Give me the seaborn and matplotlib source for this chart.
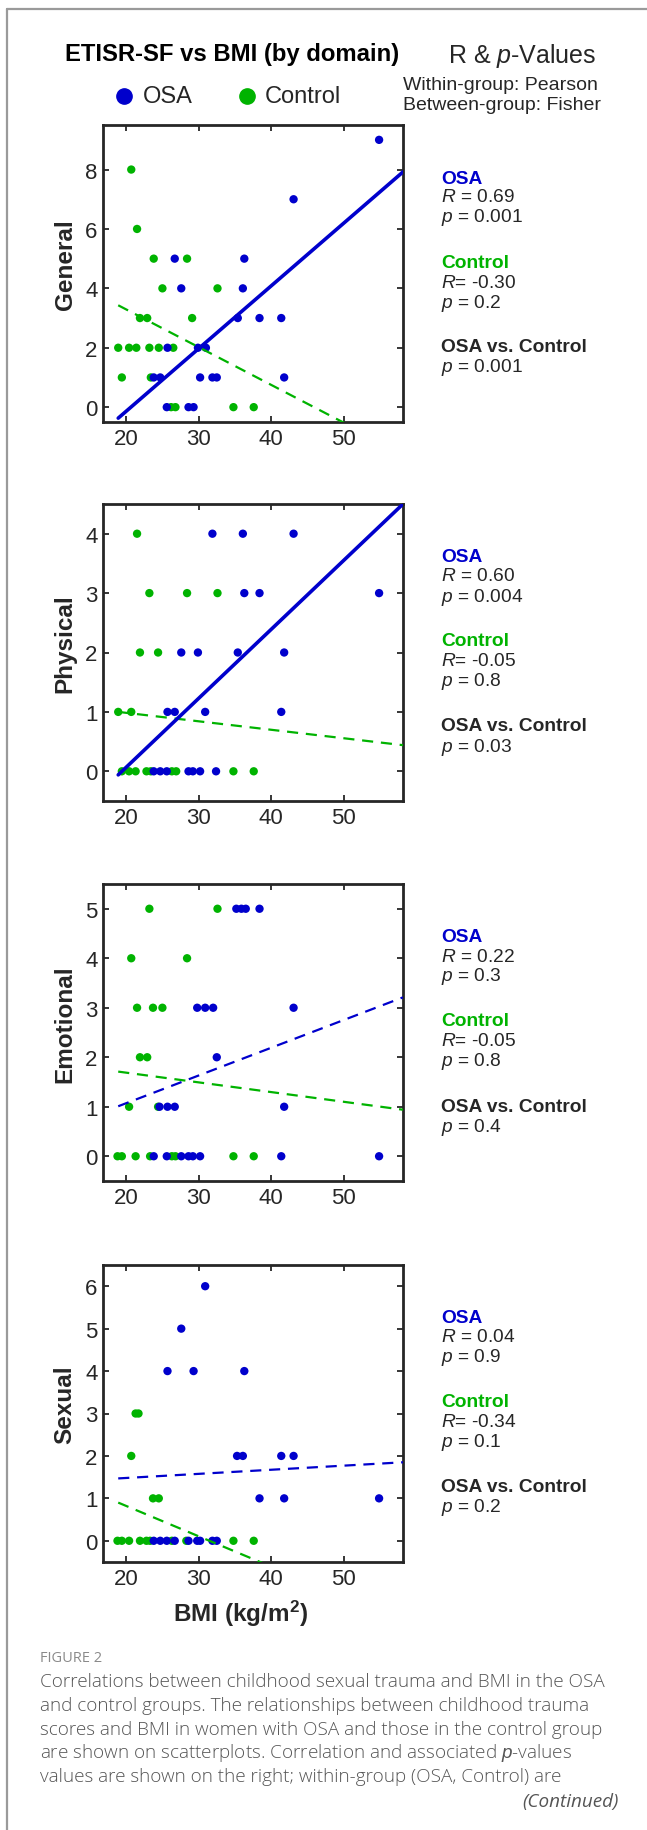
import numpy as np
import pandas as pd
import matplotlib
matplotlib.use("Agg")
import matplotlib.pyplot as plt
from matplotlib.lines import Line2D
import seaborn as sns

# =========================
# DATA
# =========================

domains = ["General", "Physical", "Emotional", "Sexual"]

general_osa_bmi = [26.7, 36.3, 27.6, 36.1, 43.1, 35.4, 38.4, 41.4, 25.7, 29.9, 31.0,
                   23.8, 24.7, 30.2, 31.9, 32.5, 41.8, 25.6, 28.6, 29.3, 54.9]
general_osa_score = [5, 5, 4, 4, 7, 3, 3, 3, 2, 2, 2, 1, 1, 1, 1, 1, 1, 0, 0, 0, 9]
general_ctl_bmi = [20.7, 21.5, 23.8, 28.4, 25.0, 32.6, 21.9, 22.9, 29.1, 18.9, 20.4,
                   21.4, 23.2, 24.5, 26.5, 19.4, 23.4, 26.2, 26.8, 34.8, 37.6]
general_ctl_score = [8, 6, 5, 5, 4, 4, 3, 3, 3, 2, 2, 2, 2, 2, 2, 1, 1, 0, 0, 0, 0]

physical_osa_bmi = [31.9, 36.1, 43.1, 36.3, 38.4, 27.6, 29.9, 35.4, 41.8, 25.7, 26.7,
                    30.9, 41.4, 23.8, 24.7, 25.6, 28.6, 29.2, 30.2, 32.4, 54.9]
physical_osa_score = [4, 4, 4, 3, 3, 2, 2, 2, 2, 1, 1, 1, 1, 0, 0, 0, 0, 0, 0, 0, 3]
physical_ctl_bmi = [21.5, 23.2, 28.4, 32.6, 21.9, 24.4, 18.9, 20.7, 19.4, 20.4, 21.3,
                    22.8, 23.4, 26.3, 26.9, 34.8, 37.6]
physical_ctl_score = [4, 3, 3, 3, 2, 2, 1, 1, 0, 0, 0, 0, 0, 0, 0, 0, 0]

emotional_osa_bmi = [35.2, 35.9, 36.5, 38.4, 29.8, 30.9, 32.0, 43.1, 32.5, 24.6, 25.7,
                     26.7, 41.8, 23.8, 25.6, 27.6, 28.6, 29.2, 30.2, 41.4, 54.9]
emotional_osa_score = [5, 5, 5, 5, 3, 3, 3, 3, 2, 1, 1, 1, 1, 0, 0, 0, 0, 0, 0, 0, 0]
emotional_ctl_bmi = [23.2, 32.6, 20.7, 28.4, 21.5, 23.7, 25.0, 21.9, 22.9, 20.4, 24.4,
                     18.8, 19.4, 21.3, 23.3, 26.3, 26.8, 34.8, 37.6]
emotional_ctl_score = [5, 5, 4, 4, 3, 3, 3, 2, 2, 1, 1, 0, 0, 0, 0, 0, 0, 0, 0]

sexual_osa_bmi = [30.9, 27.6, 25.7, 29.3, 36.3, 35.3, 36.1, 41.4, 43.1, 38.4, 41.8,
                  23.8, 24.7, 25.6, 26.7, 28.6, 29.8, 30.2, 31.9, 32.5, 54.9]
sexual_osa_score = [6, 5, 4, 4, 4, 2, 2, 2, 2, 1, 1, 0, 0, 0, 0, 0, 0, 0, 0, 0, 1]
sexual_ctl_bmi = [21.3, 21.7, 20.7, 23.7, 24.5, 18.8, 19.4, 20.4, 21.9, 22.8, 23.3,
                  26.3, 28.3, 34.8, 37.6]
sexual_ctl_score = [3, 3, 2, 1, 1, 0, 0, 0, 0, 0, 0, 0, 0, 0, 0]

# fitted lines: value at BMI 18.9 and at BMI 58.2
fit_bmi = [18.9, 58.2]
osa_fit = [[-0.37, 7.92], [-0.06, 4.50], [1.01, 3.21], [1.47, 1.85]]
ctl_fit = [[3.43, -1.56], [1.00, 0.44], [1.71, 0.94], [0.90, -1.91]]
osa_solid = [True, True, False, False]
ctl_solid = [False, False, False, False]

osa_r = ["0.69", "0.60", "0.22", "0.04"]
osa_p = ["0.001", "0.004", "0.3", "0.9"]
ctl_r = ["-0.30", "-0.05", "-0.05", "-0.34"]
ctl_p = ["0.2", "0.8", "0.8", "0.1"]
between_p = ["0.001", "0.03", "0.4", "0.2"]

y_limits = [(-0.5, 9.5), (-0.5, 4.5), (-0.5, 5.5), (-0.5, 6.5)]
y_ticks = [[0, 2, 4, 6, 8], [0, 1, 2, 3, 4], [0, 1, 2, 3, 4, 5], [0, 1, 2, 3, 4, 5, 6]]
x_limits = (16.8, 58.2)
x_ticks = [20, 30, 40, 50]

osa_bmi = [general_osa_bmi, physical_osa_bmi, emotional_osa_bmi, sexual_osa_bmi]
osa_score = [general_osa_score, physical_osa_score, emotional_osa_score, sexual_osa_score]
ctl_bmi = [general_ctl_bmi, physical_ctl_bmi, emotional_ctl_bmi, sexual_ctl_bmi]
ctl_score = [general_ctl_score, physical_ctl_score, emotional_ctl_score, sexual_ctl_score]

# =========================
# STYLE
# =========================

sns.set_theme(style="ticks")
plt.rcParams["font.family"] = ["Liberation Sans", "DejaVu Sans"]
plt.rcParams["mathtext.fontset"] = "custom"
plt.rcParams["mathtext.rm"] = "Liberation Sans"
plt.rcParams["mathtext.it"] = "Liberation Sans:italic"
plt.rcParams["mathtext.bf"] = "Liberation Sans:bold"

BLUE = "#0000cc"
GREEN = "#00b300"
DARK = "#262626"
palette = {"OSA": BLUE, "Control": GREEN}

W, H = 647, 1831
fig = plt.figure(figsize=(W / 100, H / 100), dpi=100)
fig.patch.set_facecolor("white")


def fx(px):
    return px / W


def fy(py):
    return 1 - py / H


# page frame
fig.add_artist(Line2D([fx(7), fx(7)], [fy(9.5), -0.1], color="#9a9a9a", lw=1.6,
                      transform=fig.transFigure))
fig.add_artist(Line2D([fx(7), 1.1], [fy(9.5), fy(9.5)], color="#9a9a9a", lw=1.6,
                      transform=fig.transFigure))

# =========================
# HEADER
# =========================

fig.text(fx(232), fy(55), "ETISR-SF vs BMI (by domain)", ha="center", va="center",
         fontsize=17.2, fontweight="bold", color="black")
fig.text(fx(448), fy(56), "R & $p$-Values", ha="left", va="center",
         fontsize=18, color=DARK)
fig.text(fx(403), fy(85), "Within-group: Pearson", ha="left", va="center",
         fontsize=14, color=DARK)
fig.text(fx(403), fy(106), "Between-group: Fisher", ha="left", va="center",
         fontsize=14, color=DARK)

for mx, tx, name in [(124, 143, "OSA"), (247, 265, "Control")]:
    fig.add_artist(Line2D([fx(mx)], [fy(97)], marker="o", markersize=11,
                          color=palette[name], lw=0, transform=fig.transFigure))
    fig.text(fx(tx), fy(97), name, ha="left", va="center", fontsize=17, color=DARK)

# =========================
# PANELS
# =========================

ax_tops = [126, 505, 885, 1266]
ax_h = 297
ax_left, ax_w = 103, 300

for i, domain in enumerate(domains):
    top = ax_tops[i]
    ax = fig.add_axes([fx(ax_left), fy(top + ax_h), ax_w / W, ax_h / H])

    df = pd.concat([
        pd.DataFrame({"bmi": ctl_bmi[i], "score": ctl_score[i], "group": "Control"}),
        pd.DataFrame({"bmi": osa_bmi[i], "score": osa_score[i], "group": "OSA"}),
    ])

    sns.scatterplot(data=df, x="bmi", y="score", hue="group", palette=palette,
                    s=36, linewidth=0, legend=False, ax=ax, zorder=3)

    sns.lineplot(x=fit_bmi, y=ctl_fit[i], color=GREEN, lw=1.6, ax=ax, zorder=4,
                 linestyle="-" if ctl_solid[i] else (0, (5, 3.5)))
    sns.lineplot(x=fit_bmi, y=osa_fit[i], color=BLUE, ax=ax, zorder=4,
                 lw=2.6 if osa_solid[i] else 1.6,
                 linestyle="-" if osa_solid[i] else (0, (5, 3.5)))

    ax.set_xlim(*x_limits)
    ax.set_ylim(*y_limits[i])
    ax.set_xticks(x_ticks)
    ax.set_yticks(y_ticks[i])
    ax.tick_params(direction="in", length=4, width=1.3, colors=DARK,
                   top=True, right=True, labelsize=16, pad=4)
    for sp in ax.spines.values():
        sp.set_visible(True)
        sp.set_linewidth(2.0)
        sp.set_color(DARK)

    ax.set_ylabel(domain, fontsize=17.5, fontweight="bold", color=DARK)
    ax.yaxis.set_label_coords(-0.088, 0.532)
    if i == len(domains) - 1:
        ax.set_xlabel(r"BMI (kg/m$^{\mathbf{2}}$)", fontsize=17.5,
                      fontweight="bold", color=DARK)
        ax.xaxis.set_label_coords(0.457, -0.12)
    else:
        ax.set_xlabel("")

    # stats text on the right
    tx = fx(441)
    fs = 13.8
    fig.text(tx, fy(top + 53), "OSA", color=BLUE, fontweight="bold",
             fontsize=fs, va="center")
    fig.text(tx, fy(top + 72), "$R$ = " + osa_r[i], color=DARK, fontsize=fs, va="center")
    fig.text(tx, fy(top + 92), "$p$ = " + osa_p[i], color=DARK, fontsize=fs, va="center")
    fig.text(tx, fy(top + 137), "Control", color=GREEN, fontweight="bold",
             fontsize=fs, va="center")
    fig.text(tx, fy(top + 157), "$R$= " + ctl_r[i], color=DARK, fontsize=fs, va="center")
    fig.text(tx, fy(top + 177), "$p$ = " + ctl_p[i], color=DARK, fontsize=fs, va="center")
    fig.text(tx, fy(top + 222), "OSA vs. Control", color=DARK, fontweight="bold",
             fontsize=fs, va="center")
    fig.text(tx, fy(top + 242), "$p$ = " + between_p[i], color=DARK, fontsize=fs,
             va="center")

# =========================
# CAPTION
# =========================

caption_lines = [
    "Correlations between childhood sexual trauma and BMI in the OSA",
    "and control groups. The relationships between childhood trauma",
    "scores and BMI in women with OSA and those in the control group",
    "are shown on scatterplots. Correlation and associated $p$-values",
    "values are shown on the right; within-group (OSA, Control) are",
]

cap_font = ["Open Sans", "DejaVu Sans"]
fig.text(fx(40), fy(1659), "FIGURE 2", fontsize=10.5, color="#8a8a8a",
         family=cap_font, va="center")
for k, line in enumerate(caption_lines):
    fig.text(fx(40), fy(1682 + 23.8 * k), line, fontsize=13.6, color="#555555",
             family=cap_font, va="center", fontweight="light")
fig.text(fx(619), fy(1802), "(Continued)", fontsize=13.6, color="#555555",
         family=cap_font, style="italic", ha="right", va="center")

fig.savefig("out.png", dpi=100, facecolor="white")
